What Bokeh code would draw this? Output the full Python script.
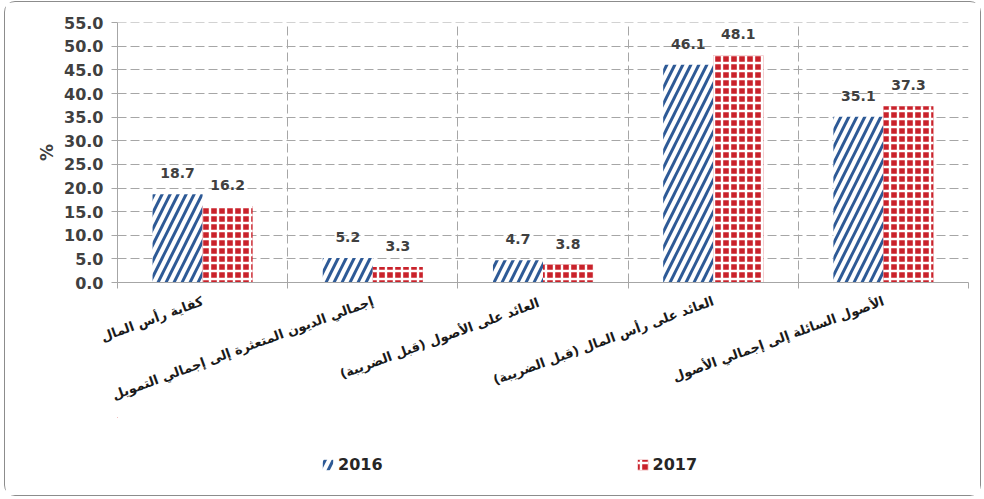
from bokeh.plotting import figure
from bokeh.layouts import column
from bokeh.models import (ColumnDataSource, FixedTicker, LinearAxis, Range1d, LabelSet,
                          Legend, LegendItem, NumeralTickFormatter)
from bokeh.core.properties import value
from bokeh.transform import dodge
from bokeh.embed import file_html
from bokeh.resources import INLINE

categories = [
    "كفاية رأس المال",
    "إجمالي الديون المتعثرة إلى إجمالي التمويل",
    "العائد على الأصول  (قبل الضريبة)",
    "العائد على رأس المال (قبل الضريبة)",
    "الأصول السائلة إلى إجمالي الأصول",
]
values_2016 = [18.7, 5.2, 4.7, 46.1, 35.1]
values_2017 = [16.2, 3.3, 3.8, 48.1, 37.3]
series_names = ["2016", "2017"]
y_ticks = [0, 5, 10, 15, 20, 25, 30, 35, 40, 45, 50, 55]

centers = [i + 0.5 for i in range(len(categories))]
boundaries = list(range(len(categories) + 1))

src = ColumnDataSource(dict(
    x=centers,
    v2016=values_2016,
    v2017=values_2017,
    t2016=[f"{v:.1f}" for v in values_2016],
    t2017=[f"{v:.1f}" for v in values_2017],
))

BLUE = "#2E5A96"
RED = "#C9222B"
TXT = "#404040"
GRID = "#A6A6A6"
FONT = "DejaVu Sans"

style_2016 = dict(fill_color="white", line_color=None, hatch_pattern="right_diagonal_line",
                  hatch_color=BLUE, hatch_scale=16, hatch_weight=3)
style_2017 = dict(fill_color=RED, line_color=None, hatch_pattern="cross",
                  hatch_color="white", hatch_scale=8, hatch_weight=2.4)

p = figure(width=975, height=415, output_backend="svg", toolbar_location=None,
           x_range=Range1d(0, 5), y_range=Range1d(0, 55.05),
           min_border_left=112, min_border_right=12, min_border_top=20, min_border_bottom=135)
p.outline_line_color = None
p.background_fill_color = "white"
p.border_fill_color = "white"

bw = 0.294
r1 = p.vbar(x=dodge("x", -bw / 2), top="v2016", width=bw, source=src, **style_2016)
r2 = p.vbar(x=dodge("x", bw / 2), top="v2017", width=bw, source=src, **style_2017)

for col, off in (("2016", -bw / 2), ("2017", bw / 2)):
    p.add_layout(LabelSet(x=dodge("x", off), y="v" + col, text="t" + col, source=src,
                          y_offset=16, text_align="center", text_baseline="bottom",
                          text_font=value(FONT), text_font_style="bold",
                          text_font_size="14px", text_color=TXT))

# y axis
ya = p.yaxis[0]
ya.ticker = FixedTicker(ticks=y_ticks)
ya.formatter = NumeralTickFormatter(format="0.0")
ya.major_tick_in = 0
ya.major_tick_out = 6
ya.minor_tick_line_color = None
ya.axis_line_color = GRID
ya.major_tick_line_color = GRID
ya.major_label_text_font = FONT
ya.major_label_text_font_style = "bold"
ya.major_label_text_font_size = "16px"
ya.major_label_text_color = TXT
ya.major_label_standoff = 8
ya.axis_label = "%"
ya.axis_label_text_font = FONT
ya.axis_label_text_font_style = "bold"
ya.axis_label_text_font_size = "17px"
ya.axis_label_text_color = TXT
ya.axis_label_standoff = 4

# x tick axis (category boundaries)
xa = p.xaxis[0]
xa.ticker = FixedTicker(ticks=boundaries)
xa.major_label_text_font_size = "0px"
xa.major_label_standoff = 0
xa.major_tick_in = 0
xa.major_tick_out = 6
xa.minor_tick_line_color = None
xa.axis_line_color = GRID
xa.major_tick_line_color = GRID

# x label axis (category names)
la = LinearAxis(ticker=FixedTicker(ticks=centers),
                major_label_overrides={c: n for c, n in zip(centers, categories)})
la.axis_line_color = None
la.major_tick_line_color = None
la.minor_tick_line_color = None
la.major_label_orientation = 0.35
la.major_label_standoff = 6
la.major_label_text_font = FONT
la.major_label_text_font_style = "bold"
la.major_label_text_font_size = "13px"
la.major_label_text_color = "#1A1A1A"
p.add_layout(la, "below")

# grids
p.xgrid.ticker = FixedTicker(ticks=boundaries)
p.xgrid.grid_line_color = GRID
p.xgrid.grid_line_dash = "9 4"
p.ygrid.grid_line_color = GRID
p.ygrid.grid_line_dash = "9 4"

# legend strip (its renderers lie outside its visible ranges; only the legend shows)
p2 = figure(width=975, height=78, output_backend="svg", toolbar_location=None,
            x_range=Range1d(100, 105), y_range=Range1d(-200, -100),
            x_axis_type=None, y_axis_type=None, min_border=0)
p2.outline_line_color = None
p2.background_fill_color = "white"
p2.border_fill_color = "white"
l1 = p2.vbar(x="x", top="v2016", width=bw, source=src, **style_2016)
l2 = p2.vbar(x="x", top="v2017", width=bw, source=src, **style_2017)
legend = Legend(items=[LegendItem(label=series_names[0], renderers=[l1]),
                       LegendItem(label=series_names[1], renderers=[l2])],
                orientation="horizontal", location=(204, 21), spacing=253,
                glyph_width=13, glyph_height=13, label_standoff=4,
                label_text_font=FONT, label_text_font_style="bold",
                label_text_font_size="16px", label_text_color="#262626",
                border_line_color=None, background_fill_alpha=0, padding=0, margin=0)
p2.add_layout(legend, "center")

layout = column(p, p2, spacing=0)
layout.styles = {"border": "1.5px solid #8C8C8C", "border-radius": "11px",
                 "margin-left": "4px", "margin-top": "1px", "background": "white"}

open("out.html", "w").write(file_html(layout, INLINE))
